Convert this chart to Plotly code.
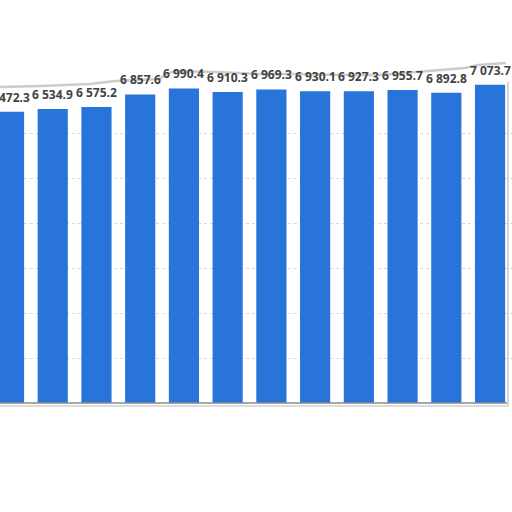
import plotly.graph_objects as go

# values (first and last bars are cut by the crop)
periods = ["P1", "P2", "P3", "P4", "P5", "P6", "P7", "P8", "P9", "P10", "P11", "P12"]
values = [6472.3, 6534.9, 6575.2, 6857.6, 6990.4, 6910.3, 6969.3, 6930.1, 6927.3, 6955.7, 6892.8, 7073.7]
grid_vals = [1000, 2000, 3000, 4000, 5000, 6000]

W, H = 512, 512
M_T, M_B = 70, 109

# torn paper edge, in pixels of the photo
top_edge = [(0, 87), (40, 86), (90, 84), (115, 81), (160, 79), (166, 74), (175, 71),
            (215, 72), (260, 74), (300, 74), (340, 75), (380, 75), (405, 73),
            (440, 70), (465, 68), (478, 65), (506, 63)]


def px(x, y):
    # pixel -> paper coords of the plot area
    return x / W, (H - M_B - y) / (H - M_T - M_B)


def edge_path():
    pts = [px(x, y) for x, y in top_edge]
    d = "M %f,%f " % pts[0] + " ".join("L %f,%f" % p for p in pts[1:])
    return d


def cover_path():
    pts = [px(x, y) for x, y in top_edge]
    d = "M 0,1.5 L %f,%f " % pts[0] + " ".join("L %f,%f" % p for p in pts[1:])
    d += " L 1,%f L 1,1.5 Z" % pts[-1][1]
    return d


fig = go.Figure()
fig.add_trace(go.Bar(
    x=periods, y=values,
    marker=dict(color="#2874DA", line=dict(width=0)),
    hoverinfo="skip",
))

# value labels, space as thousands separator
for p, v in zip(periods, values):
    fig.add_annotation(x=p, y=v, text=f"{v:,.1f}".replace(",", " "),
                       showarrow=False, yanchor="bottom", yshift=4,
                       font=dict(family="Open Sans", size=12, color="#424242", weight="bold"))

fig.update_layout(
    width=W, height=H,
    margin=dict(l=0, r=0, t=M_T, b=M_B),
    paper_bgcolor="white", plot_bgcolor="white",
    showlegend=False,
    bargap=0.31,
    xaxis=dict(range=[-0.206, 11.502], showticklabels=False, showgrid=False,
               showline=False, zeroline=False, fixedrange=True),
    yaxis=dict(range=[0, 7400], tickvals=grid_vals, showticklabels=False,
               showgrid=True, gridcolor="#d8d8d8", griddash="dot", gridwidth=1,
               zeroline=False, showline=False),
    shapes=[
        # white area above the torn edge
        dict(type="path", xref="paper", yref="paper", path=cover_path(),
             fillcolor="white", line=dict(width=0), layer="above"),
        dict(type="path", xref="paper", yref="paper", path=edge_path(),
             line=dict(color="#cccccc", width=2.5), layer="above"),
        # baseline and its shadow
        dict(type="line", xref="paper", yref="paper", x0=0, x1=px(507, 0)[0],
             y0=0, y1=0, line=dict(color="#8a8a8a", width=1.5), layer="above"),
        dict(type="line", xref="paper", yref="paper", x0=0, x1=px(508, 0)[0],
             y0=px(0, 406)[1], y1=px(0, 406)[1], line=dict(color="#dcdcdc", width=2), layer="above"),
        # right cut edge
        dict(type="line", xref="paper", yref="paper", x0=px(508, 0)[0], x1=px(508, 0)[0],
             y0=px(0, 406)[1], y1=px(0, 82)[1], line=dict(color="#d6d6d6", width=2), layer="above"),
    ],
)

# page body has a default 8px margin; drop it so the figure sits at the corner
fig.write_html("out.html", config={"displayModeBar": False},
               post_script="document.body.style.margin='0';")
